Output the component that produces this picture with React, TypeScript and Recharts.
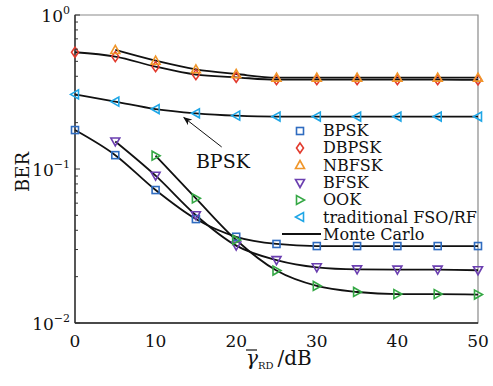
import { LineChart, Line, XAxis, YAxis, ReferenceArea, ReferenceLine, ReferenceDot } from "recharts";

const snr = [0, 5, 10, 15, 20, 25, 30, 35, 40, 45, 50];
const bpsk = [0.179, 0.123, 0.073, 0.0473, 0.0363, 0.0326, 0.0316, 0.0316, 0.0316, 0.0316, 0.0316];
const dbpsk = [0.573, 0.537, 0.462, 0.41, 0.394, 0.38, 0.38, 0.38, 0.38, 0.38, 0.379];
const nbfsk = [null, 0.593, 0.505, 0.444, 0.414, 0.392, 0.392, 0.392, 0.392, 0.392, 0.392];
const bfsk = [null, 0.151, 0.0905, 0.0501, 0.0318, 0.0256, 0.023, 0.0223, 0.0222, 0.0222, 0.022];
const ook = [null, null, 0.122, 0.0645, 0.0346, 0.0219, 0.0174, 0.0159, 0.0154, 0.0154, 0.0153];
const traditional = [0.305, 0.274, 0.245, 0.23, 0.222, 0.219, 0.219, 0.219, 0.219, 0.219, 0.219];

const xTicks = [0, 10, 20, 30, 40, 50];
const yTicks = [
  0.01, 0.02, 0.03, 0.04, 0.05, 0.06, 0.07, 0.08, 0.09,
  0.1, 0.2, 0.3, 0.4, 0.5, 0.6, 0.7, 0.8, 0.9, 1,
];
const yMajor: Record<string, string> = { "1": "0", "0.1": "\u22121", "0.01": "\u22122" };

const FONT = "'DejaVu Serif', serif";

type Shape = "square" | "diamond" | "up" | "down" | "right" | "left";

const series: Array<{ key: string; name: string; color: string; shape: Shape; values: Array<number | null> }> = [
  { key: "bpsk", name: "BPSK", color: "#2f6cc0", shape: "square", values: bpsk },
  { key: "dbpsk", name: "DBPSK", color: "#e23b2e", shape: "diamond", values: dbpsk },
  { key: "nbfsk", name: "NBFSK", color: "#f0962a", shape: "up", values: nbfsk },
  { key: "bfsk", name: "BFSK", color: "#6b3fb0", shape: "down", values: bfsk },
  { key: "ook", name: "OOK", color: "#35a845", shape: "right", values: ook },
  { key: "trad", name: "traditional FSO/RF", color: "#1fa6e6", shape: "left", values: traditional },
];

const data = snr.map((x, i) => {
  const row: Record<string, number | null> = { x };
  series.forEach((s) => {
    row[s.key] = s.values[i];
  });
  return row;
});

function marker(shape: Shape, cx: number, cy: number, color: string, key?: string) {
  const common = { fill: "none", stroke: color, strokeWidth: 1.6, key };
  const r = 4.5;
  switch (shape) {
    case "square":
      return <rect {...common} x={cx - 3.5} y={cy - 3.5} width={7} height={7} />;
    case "diamond":
      return <path {...common} d={`M${cx},${cy - r - 0.5} L${cx + r - 1},${cy} L${cx},${cy + r + 0.5} L${cx - r + 1},${cy} Z`} />;
    case "up":
      return <path {...common} d={`M${cx},${cy - r} L${cx + r},${cy + r - 1} L${cx - r},${cy + r - 1} Z`} />;
    case "down":
      return <path {...common} d={`M${cx},${cy + r} L${cx + r},${cy - r + 1} L${cx - r},${cy - r + 1} Z`} />;
    case "right":
      return <path {...common} d={`M${cx + r},${cy} L${cx - r + 1},${cy + r} L${cx - r + 1},${cy - r} Z`} />;
    default:
      return <path {...common} d={`M${cx - r},${cy} L${cx + r - 1},${cy + r} L${cx + r - 1},${cy - r} Z`} />;
  }
}

function makeDot(shape: Shape, color: string) {
  return (props: any) => {
    const { cx, cy, index, value, dataKey } = props;
    const k = `${dataKey}-${index}`;
    if (value == null || cx == null || cy == null) return <g key={k} />;
    return marker(shape, cx, cy, color, k);
  };
}

function YTick(props: any) {
  const { x, y, payload } = props;
  const exp = yMajor[String(payload.value)];
  const len = exp ? 5 : 3;
  return (
    <g>
      <line x1={x} x2={x + len} y1={y} y2={y} stroke="#333" strokeWidth={1} />
      {exp && (
        <text x={x - 5} y={y + 7} textAnchor="end" fontFamily={FONT} fontSize={17} fill="#111">
          10
          <tspan dy={-8} fontSize={11}>
            {exp}
          </tspan>
        </text>
      )}
    </g>
  );
}

function XTick(props: any) {
  const { x, y, payload } = props;
  return (
    <text x={x} y={y + 24} textAnchor="middle" fontFamily={FONT} fontSize={17} fill="#111">
      {payload.value}
    </text>
  );
}

function Legend() {
  return (
    <div style={{ position: "absolute", left: 288, top: 122, fontFamily: FONT, fontSize: 16, color: "#111" }}>
      {series.map((s) => (
        <div key={s.key} style={{ height: 17.3, display: "flex", alignItems: "center" }}>
          <svg width={24} height={14} style={{ marginRight: 11 }}>
            {marker(s.shape, 12, 7, s.color)}
          </svg>
          <span style={{ lineHeight: "17px" }}>{s.name}</span>
        </div>
      ))}
      <div style={{ height: 17.3, display: "flex", alignItems: "center", marginLeft: -7 }}>
        <svg width={42} height={14}>
          <line x1={1} x2={40} y1={7} y2={7} stroke="#111" strokeWidth={2} />
        </svg>
        <span style={{ lineHeight: "17px" }}>Monte Carlo</span>
      </div>
    </div>
  );
}

export default function App() {
  return (
    <div style={{ position: "absolute", left: 0, top: 0, width: 493, height: 386, background: "#fff" }}>
      <LineChart width={493} height={386} data={data} margin={{ top: 15, right: 15, bottom: 0, left: 0 }}>
        <defs>
          <marker id="arrowHead" viewBox="0 0 10 10" refX="9" refY="5" markerWidth="9" markerHeight="9" orient="auto">
            <path d="M0,1 L10,5 L0,9 L3,5 Z" fill="#111" />
          </marker>
        </defs>
        <ReferenceArea x1={0} x2={50} y1={0.01} y2={1} fill="none" stroke="#8a8a8a" strokeWidth={1.2} ifOverflow="visible" />
        <XAxis
          dataKey="x"
          type="number"
          domain={[0, 50]}
          ticks={xTicks}
          tick={<XTick />}
          tickLine={false}
          tickSize={0}
          tickMargin={0}
          height={63}
          axisLine={{ stroke: "#222", strokeWidth: 1.3 }}
        />
        <YAxis
          scale="log"
          type="number"
          domain={[0.01, 1]}
          ticks={yTicks}
          interval={0}
          tick={<YTick />}
          tickLine={false}
          tickSize={0}
          tickMargin={0}
          width={75}
          allowDataOverflow
          axisLine={{ stroke: "#222", strokeWidth: 1.3 }}
        />
        {series.map((s) => (
          <Line
            key={s.key}
            dataKey={s.key}
            type="monotone"
            stroke="#111"
            strokeWidth={1.8}
            dot={makeDot(s.shape, s.color)}
            activeDot={false}
            isAnimationActive={false}
          />
        ))}
        <ReferenceLine
          segment={[
            { x: 18.2, y: 0.139 },
            { x: 13.5, y: 0.216 },
          ]}
          ifOverflow="visible"
          shape={(p: any) => (
            <line x1={p.x1} y1={p.y1} x2={p.x2} y2={p.y2} stroke="#111" strokeWidth={1} markerEnd="url(#arrowHead)" />
          )}
        />
        <ReferenceDot
          x={15}
          y={0.1015}
          ifOverflow="visible"
          shape={(p: any) => (
            <text x={p.cx} y={p.cy} fontFamily={FONT} fontSize={19} fill="#111">
              BPSK
            </text>
          )}
        />
        <text x={22} y={172} transform="rotate(-90 22 172)" textAnchor="middle" dominantBaseline="central" fontFamily={FONT} fontSize={18} fill="#111">
          BER
        </text>
        <text x={246} y={365} fontFamily={FONT} fontSize={20} fill="#111">
          <tspan fontStyle="italic">γ</tspan>
          <tspan fontSize={10} dy={4}>RD</tspan>
          <tspan dy={-4} dx={4}>/dB</tspan>
        </text>
        <line x1={246} x2={257} y1={350} y2={350} stroke="#111" strokeWidth={1.2} />
      </LineChart>
      <Legend />
    </div>
  );
}
